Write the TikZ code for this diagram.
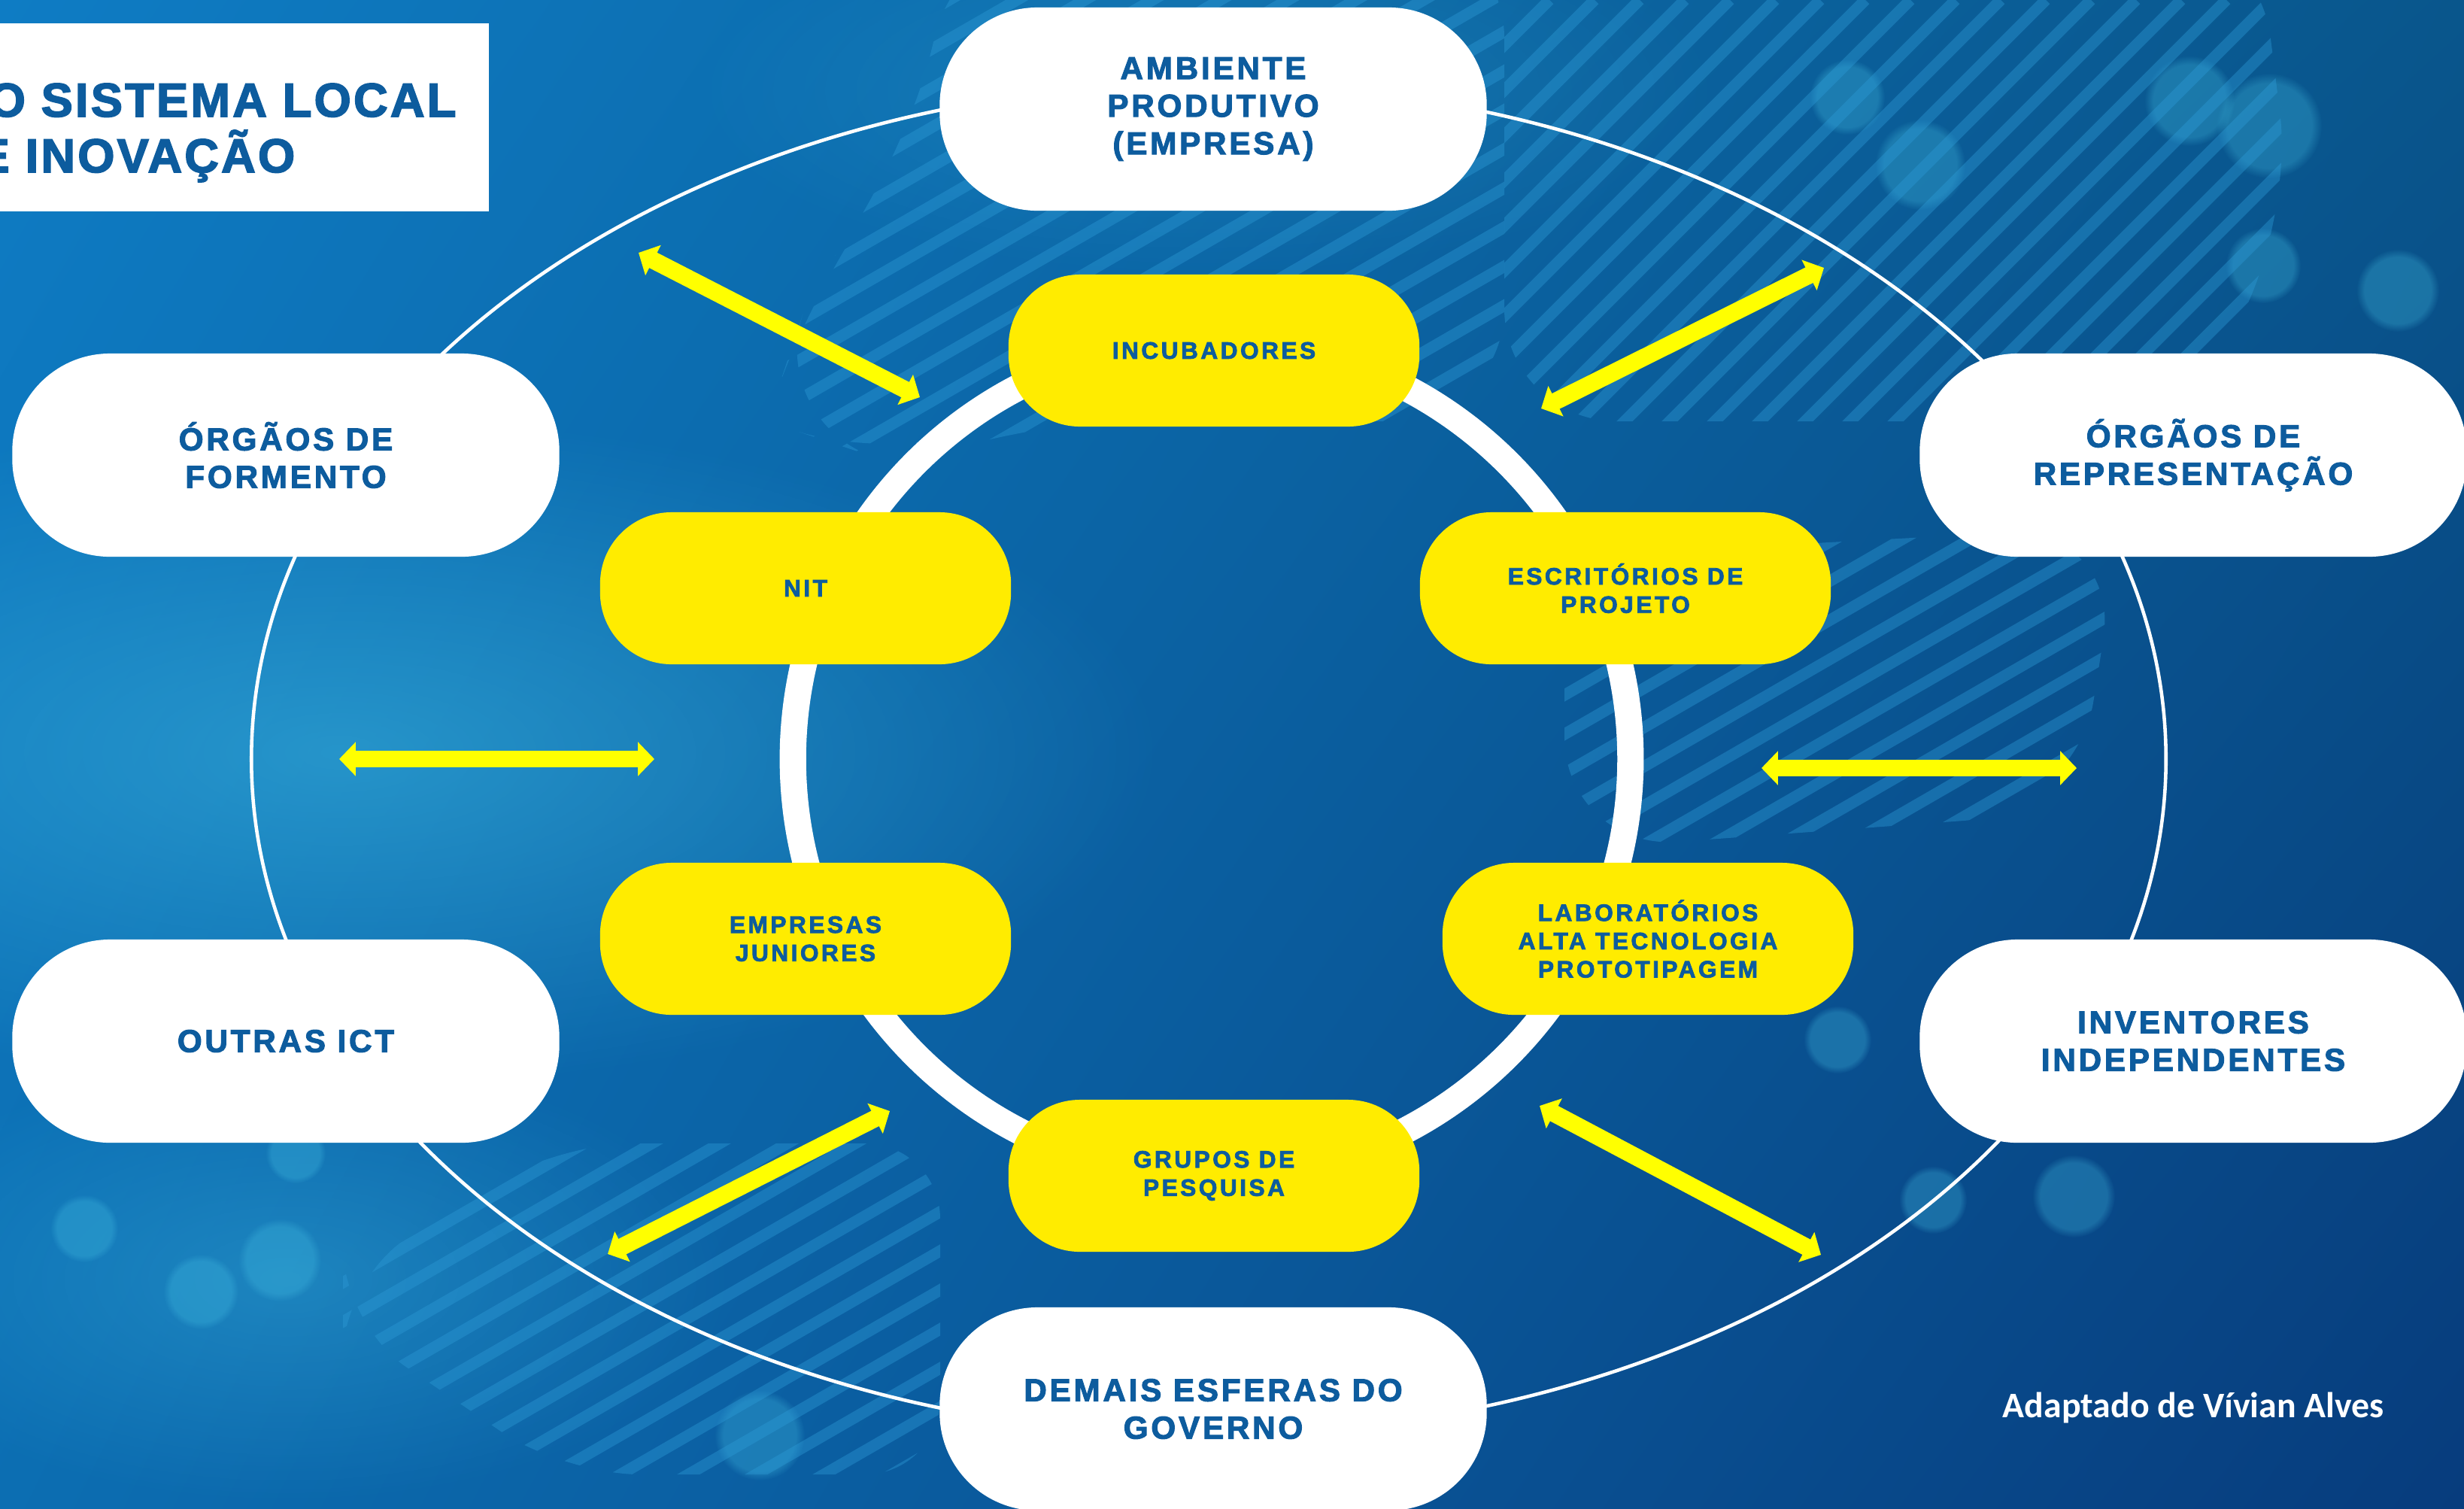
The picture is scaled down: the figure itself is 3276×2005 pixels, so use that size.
\documentclass[tikz,border=0pt]{standalone}
\usepackage{fontspec}
\setmainfont{Liberation Sans}
\newfontfamily\boxfont{Liberation Sans Bold}[LetterSpace=9, FakeBold=2.5]
\newfontfamily\pillfont{Liberation Sans Bold}[LetterSpace=11, FakeBold=2.5]
\newfontfamily\headfont{Liberation Sans Bold}[LetterSpace=5, FakeBold=2.5]
\newfontfamily\notefont{Carlito}
\usetikzlibrary{arrows.meta,fadings,shadings}
\definecolor{txtblue}{RGB}{13,92,158}
\definecolor{pill}{RGB}{255,236,0}
\definecolor{arrowyel}{RGB}{255,255,0}
\definecolor{bgtl}{RGB}{14,124,196}
\definecolor{bgtr}{RGB}{9,86,140}
\definecolor{bgbl}{RGB}{12,110,178}
\definecolor{bgbr}{RGB}{7,60,125}
\definecolor{glow}{RGB}{70,195,230}
\definecolor{stripeblue}{RGB}{45,155,215}
\tikzfading[name=softglow, inner color=transparent!0, outer color=transparent!100]

\begin{document}
\begin{tikzpicture}[x=0.01cm, y=-0.01cm,
  outer/.style = {fill=white, rounded corners=1.3cm, minimum width=7.27cm, minimum height=2.7cm, align=center, text=txtblue, font=\boxfont\fontsize{12pt}{14.2pt}\selectfont},
  inner/.style = {fill=pill, rounded corners=0.95cm, minimum width=5.46cm, minimum height=2.02cm, align=center, text=txtblue, font=\pillfont\fontsize{9pt}{10.7pt}\selectfont},
  link/.style = {draw=arrowyel, line width=6.5pt, {Triangle[length=6.2pt, width=12.5pt]}-{Triangle[length=6.2pt, width=12.5pt]}},
  glowspot/.style = {fill=glow, opacity=0.3, path fading=circle with fuzzy edge 20 percent},
  haze/.style = {fill=glow, path fading=softglow},
  hatch/.style = {draw=stripeblue, line width=4.3pt, opacity=0.4}]

	\useasboundingbox (0,0) rectangle (3276,2005);

	\begin{scope}
		\clip (0,0) rectangle (3276,2005);
		\shade[upper left=bgtl, upper right=bgtr, lower left=bgbl, lower right=bgbr] (0,0) rectangle (3276,2005);
		\fill[haze, opacity=0.45] (450,1000) ellipse [x radius=11cm, y radius=4.5cm];
		\fill[haze, opacity=0.3] (380,1700) ellipse [x radius=6cm, y radius=3cm];
		\fill[haze, opacity=0.2] (1600,120) ellipse [x radius=7cm, y radius=2.5cm];
		\fill[glowspot] (112,1633) circle [radius=0.45cm];
		\fill[glowspot] (372,1675) circle [radius=0.55cm];
		\fill[glowspot] (267,1717) circle [radius=0.5cm];
		\fill[glowspot] (393,1533) circle [radius=0.4cm];
		\fill[glowspot] (1010,1908) circle [radius=0.6cm];
		\fill[glowspot] (3017,167) circle [radius=0.7cm];
		\fill[glowspot] (3188,386) circle [radius=0.55cm];
		\fill[glowspot] (2911,134) circle [radius=0.6cm];
		\fill[glowspot] (2553,219) circle [radius=0.6cm];
		\fill[glowspot] (2456,129) circle [radius=0.5cm];
		\fill[glowspot] (3009,353) circle [radius=0.5cm];
		\fill[glowspot] (2443,1382) circle [radius=0.45cm];
		\fill[glowspot] (2757,1590) circle [radius=0.55cm];
		\fill[glowspot] (2570,1595) circle [radius=0.45cm];
		\begin{scope}
			\clip[rounded corners=1.5cm] (1020,560) -- (1080,380) -- (1200,220) -- (1280,-100) -- (2000,-100) -- (2000,560) -- (1700,560) -- (1350,560) -- (1200,620) -- cycle;
			\foreach \c in {0,52,...,3900}
				\draw[hatch] (0,\c) -- (3276,\c-1890);
		\end{scope}
		\begin{scope}
			\clip[rounded corners=1.5cm] (2000,-100) -- (3000,-100) -- (3050,300) -- (2900,560) -- (2000,560) -- cycle;
			\foreach \c in {2000,2060,...,4000}
				\draw[hatch] (\c,0) -- (\c-3276,3276);
		\end{scope}
		\begin{scope}
			\clip[rounded corners=1.5cm] (2080,740) -- (2820,700) -- (2760,1080) -- (2080,1130) -- cycle;
			\foreach \c in {1500,1552,...,3500}
				\draw[hatch] (0,\c) -- (3276,\c-1890);
		\end{scope}
		\begin{scope}
			\clip[rounded corners=1cm] (456,1700) -- (740,1520) -- (1250,1520) -- (1250,1960) -- (750,1960) -- (456,1760) -- cycle;
			\foreach \c in {1500,1552,...,3300}
				\draw[hatch] (0,\c) -- (3276,\c-1890);
		\end{scope}
	\end{scope}

	\draw[white, line width=1.3pt] (1607,1009) ellipse [x radius=12.72cm, y radius=8.98cm];
	\draw[white, line width=10pt] (1611,1009) circle [radius=5.565cm];

	\begin{scope}
		\clip (0,0) rectangle (3276,2005);
		\node[fill=white, minimum width=6.6cm, minimum height=2.5cm] (ttlbox) at (320,156) {};
		\node[anchor=base west, inner sep=0pt, text=txtblue, font=\headfont\fontsize{18pt}{21pt}\selectfont] (ttl1) at (-16,155) {O SISTEMA LOCAL};
		\node[anchor=base west, inner sep=0pt, text=txtblue, font=\headfont\fontsize{18pt}{21pt}\selectfont] (ttl2) at (-30,229) {E INOVAÇÃO};

		\node[outer] (amb) at (1613,145) {AMBIENTE\\PRODUTIVO\\(EMPRESA)};
		\node[outer] (orgf) at (380,605) {ÓRGÃOS DE\\FORMENTO};
		\node[outer] (orgr) at (2916,605) {ÓRGÃOS DE\\REPRESENTAÇÃO};
		\node[outer] (outras) at (380,1384) {OUTRAS ICT};
		\node[outer] (inv) at (2916,1384) {INVENTORES\\INDEPENDENTES};
		\node[outer] (dem) at (1613,1873) {DEMAIS ESFERAS DO\\GOVERNO};
	\end{scope}

	\node[inner] (inc) at (1614,466) {INCUBADORES};
	\node[inner] (nit) at (1071,782) {NIT};
	\node[inner] (esc) at (2161,782) {ESCRITÓRIOS DE\\PROJETO};
	\node[inner] (emp) at (1071,1248) {EMPRESAS\\JUNIORES};
	\node[inner] (lab) at (2191,1248) {LABORATÓRIOS\\ALTA TECNOLOGIA\\PROTOTIPAGEM};
	\node[inner] (grp) at (1614,1563) {GRUPOS DE\\PESQUISA};

	\coordinate (a1) at (849,336);
	\coordinate (b1) at (1223,528);
	\coordinate (a2) at (2425,356);
	\coordinate (b2) at (2049,543);
	\coordinate (a3) at (451,1009);
	\coordinate (b3) at (870,1009);
	\coordinate (a4) at (2342,1021);
	\coordinate (b4) at (2761,1021);
	\coordinate (a5) at (1183,1477);
	\coordinate (b5) at (808,1667);
	\coordinate (a6) at (2047,1470);
	\coordinate (b6) at (2421,1668);

	\draw[link] (a1) -- (b1);
	\draw[link] (a2) -- (b2);
	\draw[link] (a3) -- (b3);
	\draw[link] (a4) -- (b4);
	\draw[link] (a5) -- (b5);
	\draw[link] (a6) -- (b6);

	\node[anchor=base west, inner sep=0pt, text=white, font=\notefont\bfseries\fontsize{13.6pt}{16pt}\selectfont] (credit) at (2662,1884) {Adaptado de Vívian Alves};
\end{tikzpicture}
\end{document}
